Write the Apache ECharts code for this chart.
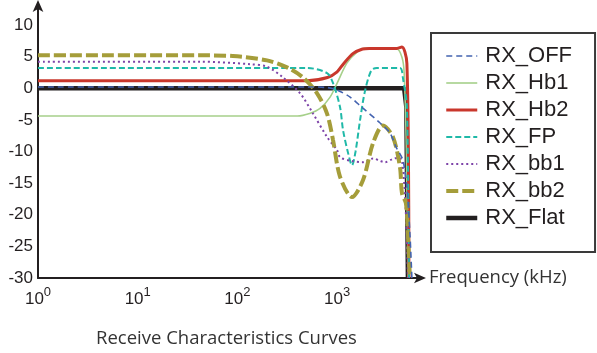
<!DOCTYPE html>
<html>
<head>
<meta charset="utf-8">
<script src="https://cdn.jsdelivr.net/npm/echarts@6/dist/echarts.min.js"></script>
<style>
  html, body { margin: 0; padding: 0; background: #fff; }
  #chart { width: 597px; height: 353px; }
</style>
</head>
<body>
<div id="chart"></div>
<script>
// frequency in kHz, response in dB
const offFreq = [1, 500, 800, 1000, 1350, 1770, 2700, 3390, 3900, 4570, 5000, 5370, 5620];
const offVal = [0.2, 0.2, 0.1, -0.3, -1.4, -3, -5.5, -7.1, -9.3, -11.4, -15.6, -23, -30];

const hb1Freq = [1, 400, 530, 674, 850, 1000, 1257, 1585, 1900, 2400, 3980, 4470, 4700, 4950, 5130];
const hb1Val = [-4.4, -4.4, -4.0, -3.2, -1.4, 0.8, 4.0, 5.7, 6.3, 6.3, 6.2, 4.9, 2.5, -10, -30];

const hb2Freq = [1, 500, 800, 1000, 1150, 1450, 1800, 2100, 3980, 4470, 4790, 5010, 5190, 5250];
const hb2Val = [1.2, 1.2, 1.7, 2.6, 3.8, 5.5, 6.2, 6.3, 6.3, 6.5, 5.7, 3.9, -10, -30];

const fpFreq = [1, 500, 792, 910, 1070, 1146, 1300, 1410, 1530, 1700, 1900, 2200, 2500, 4270, 4570, 5010, 5250];
const fpVal = [3.2, 3.2, 2.4, 0.8, -3, -6.6, -10.5, -12.2, -10, -5, -0.5, 2.8, 3.2, 3.2, 1.6, -3, -30];

const bb1Freq = [1, 42, 134, 198, 287, 425, 573, 792, 998, 1070, 1400, 1800, 2300, 2700, 3020, 3600, 4070, 4470, 4900, 5130];
const bb1Val = [4.2, 4.2, 3.8, 3.4, 1.7, -0.8, -4, -7.7, -9.8, -10.9, -11.5, -11.7, -11.1, -11.5, -11.7, -11.2, -11.0, -11.4, -20, -30];

const bb2Freq = [1, 42, 90, 198, 314, 455, 629, 792, 910, 1070, 1410, 1820, 2290, 2880, 3630, 4270, 4470, 4900, 5130, 5370];
const bb2Val = [5.2, 5.2, 5.1, 4.4, 3.3, 1.7, -0.8, -4, -8.2, -14, -17.2, -14.5, -8.7, -5.9, -7.7, -12.5, -16.6, -18.2, -23, -30];

const flatFreq = [1, 4700, 4950, 5130];
const flatVal = [0, 0, -3, -30];

const names = ["RX_OFF", "RX_Hb1", "RX_Hb2", "RX_FP", "RX_bb1", "RX_bb2", "RX_Flat"];
const yTicks = [-30, -25, -20, -15, -10, -5, 0, 5, 10];

const pairs = (f, v) => f.map((x, i) => [x, v[i]]);

const chart = echarts.init(document.getElementById("chart"));

chart.setOption({
  animation: false,
  grid: { left: 38, right: 177, top: 6, bottom: 75 },
  graphic: [{
    type: "text", left: 96, top: 329,
    style: { text: "Receive Characteristics Curves", font: "18.5px 'Open Sans'", fill: "#333" }
  }],
  legend: {
    data: names,
    orient: "vertical",
    left: 431, top: 33,
    itemWidth: 31, itemHeight: 14, itemGap: 5,
    padding: [12, 23, 23, 13],
    borderColor: "#3a3a3a", borderWidth: 2,
    itemStyle: { opacity: 0 },
    lineStyle: { width: "inherit" },
    textStyle: { fontFamily: "Liberation Sans", fontSize: 22, lineHeight: 22, color: "#231f20", padding: [0, 0, 0, 3] }
  },
  xAxis: {
    type: "log", logBase: 10, min: 1, max: 6780,
    name: "Frequency (kHz)", nameLocation: "end", nameGap: 9,
    nameTextStyle: { fontFamily: "Open Sans", fontSize: 18.5, color: "#333", verticalAlign: "middle" },
    axisLine: { onZero: false, lineStyle: { color: "#231f20", width: 2 }, symbol: ["none", "arrow"], symbolSize: [8, 12], symbolOffset: [0, 6] },
    axisTick: { show: false },
    splitLine: { show: false },
    axisLabel: {
      margin: 8, showMaxLabel: false,
      formatter: (v) => {
        const e = Math.round(Math.log10(v));
        return Math.abs(Math.log10(v) - e) < 1e-6 ? "{b|10}{s|" + e + "}" : "";
      },
      rich: {
        b: { fontFamily: "Liberation Sans", fontSize: 17, color: "#231f20", verticalAlign: "bottom", lineHeight: 22 },
        s: { fontFamily: "Liberation Sans", fontSize: 13, color: "#231f20", verticalAlign: "top", lineHeight: 22 }
      }
    }
  },
  yAxis: {
    type: "value", min: -30, max: 13, interval: 5,
    axisLine: { show: true, onZero: false, lineStyle: { color: "#231f20", width: 2 }, symbol: ["none", "arrow"], symbolSize: [8, 12], symbolOffset: [0, 6] },
    axisTick: { show: false },
    splitLine: { show: false },
    axisLabel: {
      margin: 5, fontFamily: "Liberation Sans", fontSize: 17, color: "#231f20",
      formatter: (v) => (yTicks.includes(v) ? String(v) : "")
    }
  },
  series: [
    { name: "RX_Flat", type: "line", z: 1, data: pairs(flatFreq, flatVal), symbol: "none",
      lineStyle: { color: "#231f20", width: 4.5 }, itemStyle: { color: "#231f20" } },
    { name: "RX_OFF", type: "line", z: 3, data: pairs(offFreq, offVal), symbol: "none", smooth: 0.3,
      lineStyle: { color: "#4363b0", width: 1.6, type: [6, 4] }, itemStyle: { color: "#4363b0" } },
    { name: "RX_Hb1", type: "line", z: 2, data: pairs(hb1Freq, hb1Val), symbol: "none", smooth: 0.3,
      lineStyle: { color: "#a6d08a", width: 1.6 }, itemStyle: { color: "#a6d08a" } },
    { name: "RX_Hb2", type: "line", z: 2, data: pairs(hb2Freq, hb2Val), symbol: "none", smooth: 0.3,
      lineStyle: { color: "#c9372c", width: 3 }, itemStyle: { color: "#c9372c" } },
    { name: "RX_FP", type: "line", z: 2, data: pairs(fpFreq, fpVal), symbol: "none", smooth: 0.3,
      lineStyle: { color: "#1fb9a8", width: 2, type: [6, 3] }, itemStyle: { color: "#1fb9a8" } },
    { name: "RX_bb1", type: "line", z: 2, data: pairs(bb1Freq, bb1Val), symbol: "none", smooth: 0.3,
      lineStyle: { color: "#7d43a8", width: 2, type: [2, 3] }, itemStyle: { color: "#7d43a8" } },
    { name: "RX_bb2", type: "line", z: 2, data: pairs(bb2Freq, bb2Val), symbol: "none", smooth: 0.3,
      lineStyle: { color: "#a59d3a", width: 4, type: [12, 4] }, itemStyle: { color: "#a59d3a" } }
  ]
});
</script>
</body>
</html>
